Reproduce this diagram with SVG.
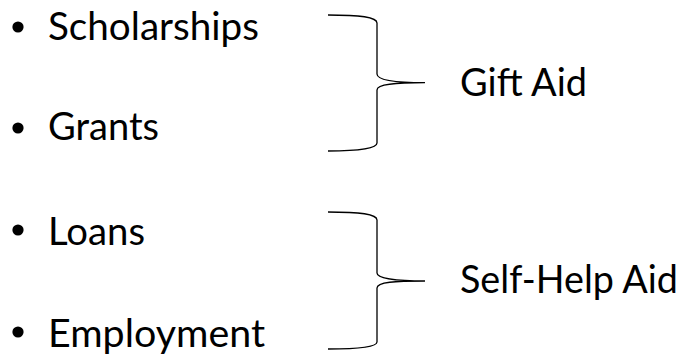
<svg xmlns="http://www.w3.org/2000/svg" width="684" height="356" viewBox="0 0 684 356">
<style>
.t{font-family:Lato,"Open Sans","Liberation Sans",sans-serif;font-size:38px;fill:#000}
.b{fill:#000}
.br{fill:none;stroke:#000;stroke-width:1.3}
</style>
<rect width="684" height="356" fill="#fff"/>
<g id="scholarships"><circle class="b" cx="18" cy="27" r="5.6"/><text class="t" x="48" y="40" textLength="211" lengthAdjust="spacingAndGlyphs">Scholarships</text></g>
<g id="grants"><circle class="b" cx="18" cy="128" r="5.6"/><text class="t" x="48" y="140" textLength="111" lengthAdjust="spacingAndGlyphs">Grants</text></g>
<g id="loans"><circle class="b" cx="18" cy="230" r="5.6"/><text class="t" x="48" y="245" textLength="97" lengthAdjust="spacingAndGlyphs">Loans</text></g>
<g id="employment"><circle class="b" cx="18" cy="332" r="5.6"/><text class="t" x="48" y="347" textLength="217" lengthAdjust="spacingAndGlyphs">Employment</text></g>
<g id="gift-aid"><text class="t" x="460" y="96" textLength="127" lengthAdjust="spacingAndGlyphs">Gift Aid</text></g>
<g id="self-help-aid"><text class="t" x="460" y="293" textLength="218" lengthAdjust="spacingAndGlyphs">Self-Help Aid</text></g>
<g id="connectors">
<path class="br" d="M328,15 C360,15 377,17 377,23 L377,74 C377,80 395,82.7 425,82.7 C395,82.7 377,84 377,90 L377,143 C377,148 360,151 328,151"/>
<path class="br" d="M328,212 C360,212 377,214 377,220 L377,273 C377,278 395,281 425,281 C395,281 377,282 377,288 L377,342 C377,347 360,349 328,349"/>
</g>
</svg>
